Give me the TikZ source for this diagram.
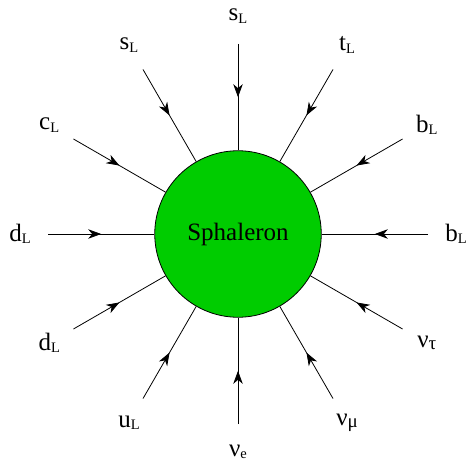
\documentclass[tikz,border=0pt]{standalone}
\usepackage{fontspec}
\setmainfont{Liberation Serif}
\usetikzlibrary{arrows.meta,decorations.markings}
\definecolor{sphgreen}{RGB}{0,204,0}
\newcommand\plab[2]{#1\raisebox{-2.5pt}{\fontsize{14.5}{14.5}\selectfont #2}}
\newcommand\glab[2]{#1\raisebox{-2.5pt}{\fontsize{19}{19}\selectfont #2}}
\begin{document}
\begin{tikzpicture}[x=1pt,y=1pt,
  leg/.style={line width=0.8pt, postaction={decorate},
    decoration={markings, mark=at position 0.5 with {\arrow{Stealth[length=13pt,width=9.5pt,inset=4pt]}}}},
  lbl/.style={inner sep=0pt, font=\fontsize{25}{30}\selectfont}]
\useasboundingbox (0,0) rectangle (470,-462);
\coordinate (C) at (238,-234);
\node[circle, draw, fill=sphgreen, minimum size=166.5pt, inner sep=0pt, line width=0.8pt,
  font=\fontsize{25}{30}\selectfont] (sph) at (C) {Sphaleron};
\foreach \a/\t/\n in {90/{\plab{s}{L}}/1, 120/{\plab{s}{L}}/2, 60/{\plab{t}{L}}/3,
  150/{\plab{c}{L}}/4, 30/{\plab{b}{L}}/5, 180/{\plab{d}{L}}/6, 0/{\plab{b}{L}}/7,
  210/{\plab{d}{L}}/8, 330/{\glab{ν}{τ}}/9, 240/{\plab{u}{L}}/10, 270/{\plab{ν}{e}}/11,
  300/{\glab{ν}{μ}}/12} {
  \coordinate (o\n) at ([shift={(\a:190)}]C);
  \node[lbl] (l\n) at ([shift={(\a:218)}]C) {\t};
  \draw[leg] (o\n) -- (sph);
}
\end{tikzpicture}
\end{document}
